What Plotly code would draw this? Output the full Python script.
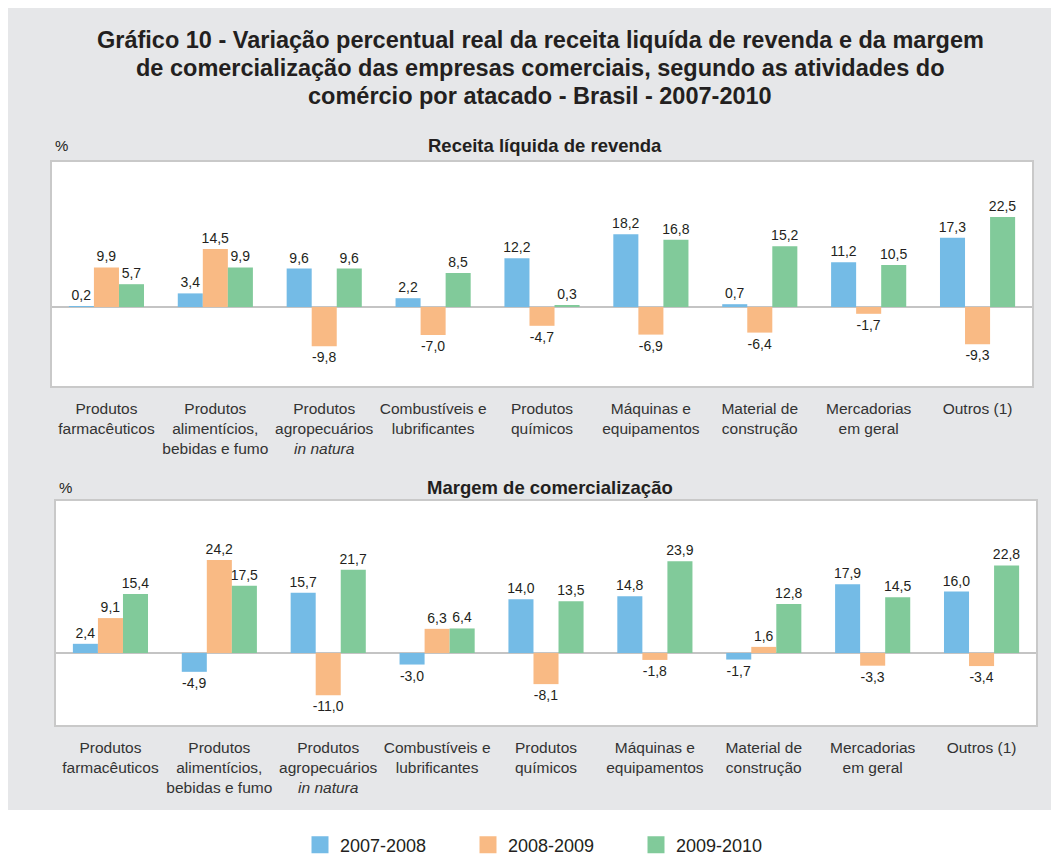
import plotly.graph_objects as go
from plotly.subplots import make_subplots

# a página tem 8 px de margem no body; as coordenadas abaixo são da página
OFF = 8
W, H = 1059 - 2 * OFF, 865 - 2 * OFF

categorias = [
    "Produtos<br>farmacêuticos",
    "Produtos<br>alimentícios,<br>bebidas e fumo",
    "Produtos<br>agropecuários<br><i>in natura</i>",
    "Combustíveis e<br>lubrificantes",
    "Produtos<br>químicos",
    "Máquinas e<br>equipamentos",
    "Material de<br>construção",
    "Mercadorias<br>em geral",
    "Outros (1)",
]
periodos = ["2007-2008", "2008-2009", "2009-2010"]

receita_2007_2008 = [0.2, 3.4, 9.6, 2.2, 12.2, 18.2, 0.7, 11.2, 17.3]
receita_2008_2009 = [9.9, 14.5, -9.8, -7.0, -4.7, -6.9, -6.4, -1.7, -9.3]
receita_2009_2010 = [5.7, 9.9, 9.6, 8.5, 0.3, 16.8, 15.2, 10.5, 22.5]

margem_2007_2008 = [2.4, -4.9, 15.7, -3.0, 14.0, 14.8, -1.7, 17.9, 16.0]
margem_2008_2009 = [9.1, 24.2, -11.0, 6.3, -8.1, -1.8, 1.6, -3.3, -3.4]
margem_2009_2010 = [15.4, 17.5, 21.7, 6.4, 13.5, 23.9, 12.8, 14.5, 22.8]

titulo = ["Gráfico 10 - Variação percentual real da receita liquída de revenda e da margem",
          "de comercialização das empresas comerciais, segundo as atividades do",
          "comércio por atacado - Brasil - 2007-2010"]

cores = ["#74bbe6", "#f9ba84", "#81ca9a"]
FONT = "Liberation Sans, Arial, sans-serif"
TXT = "#231f20"


def px_x(x):
    return (x - OFF) / W


def px_y(y):
    return 1 - (y - OFF) / H


fig = make_subplots(rows=2, cols=1)

receita = [receita_2007_2008, receita_2008_2009, receita_2009_2010]
margem = [margem_2007_2008, margem_2008_2009, margem_2009_2010]

for i, nome in enumerate(periodos):
    for row, valores in ((1, receita[i]), (2, margem[i])):
        fig.add_trace(go.Bar(x=categorias, y=valores, name=nome, showlegend=False,
                             offsetgroup=str(i),
                             marker=dict(color=cores[i], line=dict(width=0)),
                             texttemplate="%{y:.1f}", textposition="outside",
                             constraintext="none", cliponaxis=False,
                             textfont=dict(size=14, color=TXT, family=FONT)), row=row, col=1)
    # entrada de legenda com quadrado maior
    fig.add_trace(go.Bar(x=[None], y=[None], name=nome, offsetgroup=str(i), hoverinfo="skip",
                         marker=dict(color=cores[i], line=dict(color=cores[i], width=5))),
                  row=1, col=1)

eixo_x = dict(showline=True, mirror=True, linecolor="#c9c9c9", linewidth=2, ticks="",
              showgrid=False, tickfont=dict(size=15.5, color="#333333", family=FONT),
              ticklabelstandoff=7)
eixo_y = dict(showline=True, mirror=True, linecolor="#c9c9c9", linewidth=2, showgrid=False,
              showticklabels=False, ticks="", zeroline=True, zerolinecolor="#c4c4c4",
              zerolinewidth=2)

fig.update_xaxes(**eixo_x)
fig.update_yaxes(**eixo_y)
fig.update_layout(
    xaxis=dict(domain=[px_x(52), px_x(1032)]),
    xaxis2=dict(domain=[px_x(56), px_x(1036)]),
    yaxis=dict(domain=[px_y(386), px_y(162)], range=[-19.75, 36.25]),
    yaxis2=dict(domain=[px_y(725), px_y(501)], range=[-18.75, 39.6]),
)

anotacoes = [dict(text="<b>%s</b>" % linha, x=px_x(540), y=px_y(40 + 28 * k),
                  font=dict(size=23.5, color=TXT)) for k, linha in enumerate(titulo)]
anotacoes += [
    dict(text="<b>Receita líquida de revenda</b>", x=px_x(545), y=px_y(145),
         font=dict(size=18.5, color=TXT)),
    dict(text="<b>Margem de comercialização</b>", x=px_x(550), y=px_y(487),
         font=dict(size=18.5, color=TXT)),
    dict(text="%", x=px_x(61), y=px_y(145), font=dict(size=15, color=TXT)),
    dict(text="%", x=px_x(65), y=px_y(487), font=dict(size=15, color=TXT)),
]
for a in anotacoes:
    a.update(xref="paper", yref="paper", showarrow=False, xanchor="center", yanchor="middle")
    a["font"]["family"] = FONT

# faixa branca abaixo do fundo cinza
formas = [dict(type="rect", xref="paper", yref="paper", layer="below", line=dict(width=0),
               fillcolor="white", x0=-0.05, x1=1.05, y0=-0.05, y1=px_y(810))]

fig.update_layout(
    width=W, height=H,
    margin=dict(l=0, r=0, t=0, b=0, autoexpand=False),
    paper_bgcolor="#e6e7e9",
    plot_bgcolor="white",
    separators=",.",
    barmode="group", bargap=0.31, bargroupgap=0,
    font=dict(family=FONT, color=TXT),
    annotations=anotacoes,
    shapes=formas,
    showlegend=True,
    legend=dict(orientation="h", x=px_x(300), xanchor="left", y=px_y(845), yanchor="middle",
                font=dict(size=18, color=TXT, family=FONT), entrywidth=123,
                bgcolor="rgba(0,0,0,0)"),
)

fig.write_html("out.html")
